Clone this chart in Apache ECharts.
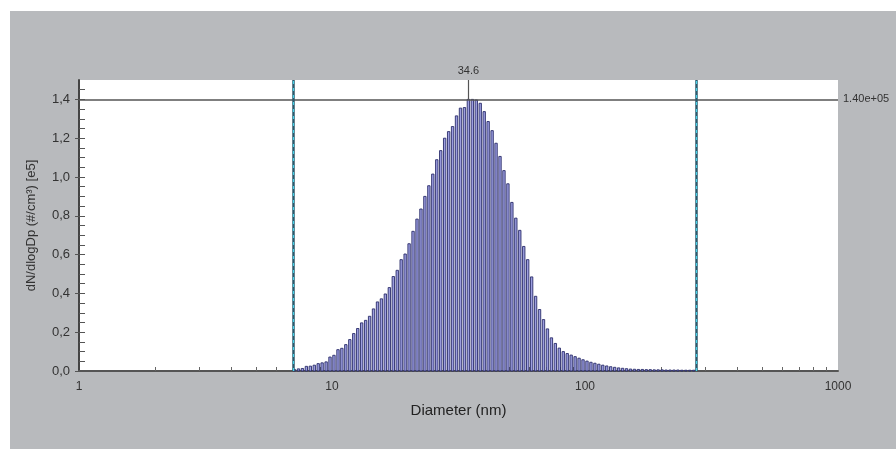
<!DOCTYPE html>
<html>
<head>
<meta charset="utf-8">
<title>Size distribution</title>
<script src="https://cdn.jsdelivr.net/npm/echarts@6/dist/echarts.min.js"></script>
<style>
  html, body { margin: 0; padding: 0; background: #fff; }
  #chart { width: 896px; height: 449px; }
</style>
</head>
<body>
<div id="chart"></div>
<script>
// channel mid-diameters (nm), 64 channels per decade
const diameters = [
  7.10, 7.37, 7.64, 7.92, 8.21, 8.51, 8.82, 9.14, 9.48, 9.82,
  10.18, 10.56, 10.94, 11.34, 11.76, 12.19, 12.64, 13.10, 13.58, 14.08,
  14.59, 15.13, 15.68, 16.25, 16.85, 17.47, 18.11, 18.77, 19.46, 20.17,
  20.91, 21.68, 22.47, 23.29, 24.15, 25.03, 25.95, 26.90, 27.88, 28.91,
  29.96, 31.06, 32.20, 33.38, 34.60, 35.87, 37.18, 38.54, 39.96, 41.42,
  42.94, 44.51, 46.14, 47.83, 49.58, 51.40, 53.28, 55.23, 57.26, 59.35,
  61.53, 63.78, 66.12, 68.54, 71.05, 73.66, 76.35, 79.15, 82.05, 85.06,
  88.17, 91.40, 94.75, 98.22, 101.82, 105.55, 109.42, 113.42, 117.58, 121.89,
  126.35, 130.98, 135.78, 140.75, 145.91, 151.25, 156.79, 162.54, 168.49, 174.66,
  181.06, 187.70, 194.57, 201.70, 209.09, 216.75, 224.69, 232.92, 241.45, 250.30,
  259.47, 268.97
];

// dN/dlogDp in units of 1e5 #/cm3
const concentration = [
  0.008, 0.011, 0.013, 0.024, 0.025, 0.030, 0.038, 0.042, 0.047, 0.072,
  0.081, 0.110, 0.117, 0.136, 0.162, 0.193, 0.219, 0.248, 0.261, 0.282,
  0.320, 0.356, 0.372, 0.397, 0.430, 0.487, 0.519, 0.574, 0.603, 0.656,
  0.720, 0.783, 0.835, 0.900, 0.955, 1.015, 1.089, 1.136, 1.200, 1.234,
  1.260, 1.315, 1.355, 1.358, 1.400, 1.400, 1.397, 1.380, 1.337, 1.286,
  1.239, 1.174, 1.106, 1.033, 0.965, 0.869, 0.788, 0.725, 0.642, 0.574,
  0.485, 0.385, 0.317, 0.265, 0.217, 0.171, 0.142, 0.118, 0.100, 0.090,
  0.082, 0.074, 0.066, 0.058, 0.051, 0.045, 0.040, 0.035, 0.030, 0.026,
  0.022, 0.019, 0.016, 0.014, 0.012, 0.010, 0.009, 0.008, 0.008, 0.007,
  0.007, 0.006, 0.006, 0.006, 0.005, 0.005, 0.005, 0.005, 0.004, 0.004,
  0.004, 0.004
];

const yLabelValues = [0, 0.2, 0.4, 0.6, 0.8, 1.0, 1.2, 1.4];
const yTickValues = [
  0, 0.05, 0.1, 0.15, 0.2, 0.25, 0.3, 0.35, 0.4, 0.45, 0.5, 0.55, 0.6, 0.65, 0.7,
  0.75, 0.8, 0.85, 0.9, 0.95, 1.0, 1.05, 1.1, 1.15, 1.2, 1.25, 1.3, 1.35, 1.4, 1.45
];
const xLabelValues = [1, 10, 100, 1000];
const xMinorTicks = [
  2, 3, 4, 5, 6, 7, 8, 9,
  20, 30, 40, 50, 60, 70, 80, 90,
  200, 300, 400, 500, 600, 700, 800, 900
];

const modeDiameter = 34.6;
const peakValue = 1.40;
const cursorLow = 7.0;
const cursorHigh = 275;

const chart = echarts.init(document.getElementById('chart'));
const font = 'Liberation Sans, Arial, sans-serif';

// bar half width in log space (fraction of one channel)
const halfBin = Math.pow(10, 0.3 / 64);

function cursorLines(x) {
  return [
    { xAxis: x, lineStyle: { color: '#2c5a6c', width: 2.5, type: 'solid' }, label: { show: false } },
    { xAxis: x, lineStyle: { color: '#46d2ea', width: 1.2, type: [3, 4] }, label: { show: false } }
  ];
}

chart.setOption({
  animation: false,
  textStyle: { fontFamily: font },
  graphic: [{
    type: 'rect',
    z: -100,
    shape: { x: 10, y: 11, width: 886, height: 438 },
    style: { fill: '#b8babd' }
  }],
  grid: {
    left: 79,
    right: 58,
    top: 80,
    bottom: 78,
    show: true,
    backgroundColor: '#ffffff',
    borderWidth: 0
  },
  xAxis: [
    {
      type: 'log',
      logBase: 10,
      min: 1,
      max: 1000,
      position: 'bottom',
      name: 'Diameter (nm)',
      nameLocation: 'middle',
      nameGap: 32,
      nameTextStyle: { color: '#222', fontSize: 15, fontFamily: font },
      axisLine: { show: true, lineStyle: { color: '#d6d6d6', width: 1 } },
      axisTick: {
        show: true,
        inside: true,
        length: 4,
        customValues: xMinorTicks,
        lineStyle: { color: '#666', width: 1 }
      },
      axisLabel: {
        color: '#333',
        fontSize: 12,
        margin: 10,
        fontFamily: font,
        customValues: xLabelValues,
        formatter: v => String(Math.round(v))
      },
      splitLine: { show: false },
      minorTick: { show: false }
    },
    {
      type: 'log',
      logBase: 10,
      min: 1,
      max: 1000,
      position: 'top',
      axisLine: { show: true, lineStyle: { color: '#555', width: 2 } },
      axisTick: { show: false },
      axisLabel: { show: false },
      splitLine: { show: false }
    }
  ],
  yAxis: [
    {
      type: 'value',
      min: 0,
      max: 1.5,
      position: 'left',
      name: 'dN/dlogDp (#/cm³) [e5]',
      nameLocation: 'middle',
      nameRotate: 90,
      nameGap: 41,
      nameTextStyle: { color: '#333', fontSize: 13, fontFamily: font },
      axisLine: { show: true, lineStyle: { color: '#444', width: 2 } },
      axisTick: {
        show: true,
        inside: true,
        length: 6,
        customValues: yTickValues,
        lineStyle: { color: '#555', width: 1 }
      },
      axisLabel: {
        color: '#333',
        fontSize: 13,
        margin: 9,
        fontFamily: font,
        customValues: yLabelValues,
        formatter: v => v.toFixed(1).replace('.', ',')
      },
      splitLine: { show: false }
    },
    {
      type: 'value',
      min: 0,
      max: 1.5,
      position: 'left',
      axisLine: { show: false },
      axisTick: {
        show: true,
        inside: false,
        length: 4,
        customValues: yLabelValues,
        lineStyle: { color: '#555', width: 1 }
      },
      axisLabel: { show: false },
      splitLine: { show: false }
    }
  ],
  series: [{
    type: 'custom',
    xAxisIndex: 0,
    yAxisIndex: 0,
    data: diameters.map((d, i) => [d, concentration[i]]),
    renderItem(params, api) {
      const d = api.value(0);
      const v = api.value(1);
      const p0 = api.coord([d / halfBin, v]);
      const p1 = api.coord([d * halfBin, 0]);
      return {
        type: 'rect',
        shape: { x: p0[0], y: p0[1], width: p1[0] - p0[0], height: p1[1] - p0[1] },
        style: { fill: '#9c9ee0', stroke: '#2a2c6a', lineWidth: 0.9 }
      };
    },
    markLine: {
      silent: true,
      symbol: 'none',
      animation: false,
      data: [
        {
          yAxis: peakValue,
          lineStyle: { color: '#555', width: 1.5, type: 'solid' },
          label: {
            show: true,
            position: 'end',
            distance: 5,
            formatter: '1.40e+05',
            color: '#333',
            fontSize: 11,
            fontFamily: font
          }
        },
        [
          { coord: [modeDiameter, peakValue] },
          {
            coord: [modeDiameter, 1.5],
            lineStyle: { color: '#555', width: 1.2, type: 'solid' },
            label: {
              show: true,
              position: 'end',
              distance: 4,
              formatter: '34.6',
              color: '#333',
              fontSize: 11,
              fontFamily: font
            }
          }
        ],
        ...cursorLines(cursorLow),
        ...cursorLines(cursorHigh)
      ]
    }
  }]
});
</script>
</body>
</html>
